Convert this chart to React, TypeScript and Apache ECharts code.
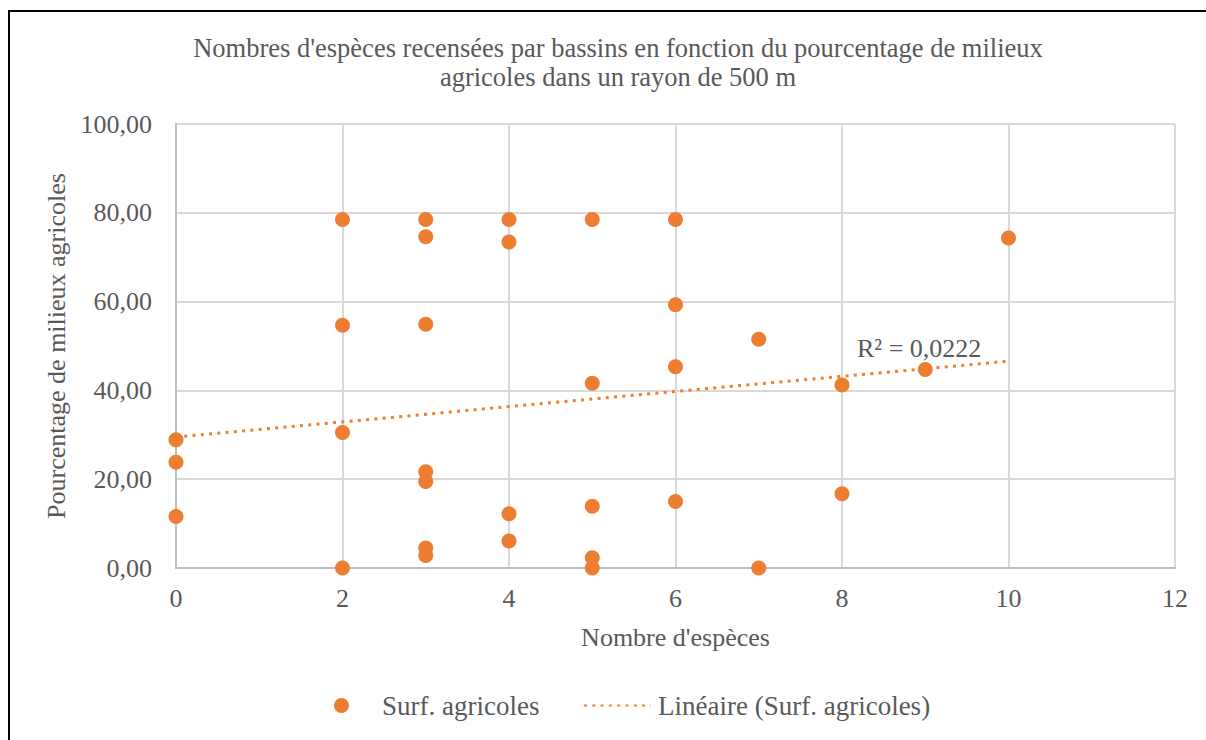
import React, { useEffect, useRef } from "react";
import * as echarts from "echarts";

const titleText =
  "Nombres d'espèces recensées par bassins en fonction du pourcentage de milieux\nagricoles dans un rayon de 500 m";
const xAxisName = "Nombre d'espèces";
const yAxisName = "Pourcentage de milieux agricoles";
const seriesName = "Surf. agricoles";
const trendName = "Linéaire (Surf. agricoles)";
const r2Label = "R² = 0,0222";

const speciesCounts = [
  0, 0, 0,
  2, 2, 2, 2,
  3, 3, 3, 3, 3, 3, 3,
  4, 4, 4, 4,
  5, 5, 5, 5, 5,
  6, 6, 6, 6,
  7, 7,
  8, 8,
  9,
  10,
];
const agriPercent = [
  28.9, 23.8, 11.6,
  78.5, 54.7, 30.5, 0,
  78.5, 74.6, 54.9, 21.7, 19.5, 4.5, 2.8,
  78.5, 73.4, 12.2, 6.1,
  78.5, 41.6, 13.9, 2.3, 0,
  78.5, 59.3, 45.3, 15.0,
  51.5, 0,
  41.2, 16.7,
  44.7,
  74.3,
];
const trendX = [0, 10];
const trendY = [29.5, 46.6];

const xTicks = { min: 0, max: 12, interval: 2 };
const yTicks = { min: 0, max: 100, interval: 20 };

const ORANGE = "#ED7D31";
const TEXT = "#595959";
const FONT = "Liberation Serif";
const FS = 26;

export default function App() {
  const ref = useRef<HTMLDivElement>(null);
  useEffect(() => {
    if (!ref.current) return;
    const chart = echarts.init(ref.current, undefined, { renderer: "svg" });
    const points = speciesCounts.map((x, i) => [x, agriPercent[i]]);
    const trend = trendX.map((x, i) => [x, trendY[i]]);
    chart.setOption({
      animation: false,
      backgroundColor: "#fff",
      textStyle: { fontFamily: FONT },
      title: {
        text: titleText,
        left: 613,
        textAlign: "center",
        top: 28,
        textStyle: {
          fontFamily: FONT,
          fontSize: 26.5,
          fontWeight: "normal",
          color: TEXT,
          lineHeight: 29,
        },
      },
      grid: { left: 176, right: 31, top: 124, bottom: 172, containLabel: false },
      xAxis: {
        type: "value",
        min: xTicks.min,
        max: xTicks.max,
        interval: xTicks.interval,
        name: xAxisName,
        nameLocation: "middle",
        nameGap: 56,
        nameTextStyle: { fontFamily: FONT, fontSize: FS, color: TEXT },
        axisLine: { show: true, lineStyle: { color: "#BFBFBF", width: 2 } },
        axisTick: { show: false },
        axisLabel: { fontFamily: FONT, fontSize: FS, color: TEXT, margin: 17 },
        splitLine: { show: true, lineStyle: { color: "#D9D9D9", width: 2 } },
      },
      yAxis: {
        type: "value",
        min: yTicks.min,
        max: yTicks.max,
        interval: yTicks.interval,
        name: yAxisName,
        nameLocation: "middle",
        nameRotate: 90,
        nameGap: 104,
        nameTextStyle: { fontFamily: FONT, fontSize: FS, color: TEXT },
        axisLine: { show: true, lineStyle: { color: "#BFBFBF", width: 2 } },
        axisTick: { show: false },
        axisLabel: {
          fontFamily: FONT,
          fontSize: FS,
          color: TEXT,
          margin: 24,
          formatter: (v: number) => v.toFixed(2).replace(".", ","),
        },
        splitLine: { show: true, lineStyle: { color: "#D9D9D9", width: 2 } },
      },
      legend: [
        {
          data: [seriesName],
          left: 334,
          top: 692,
          padding: 0,
          itemWidth: 15,
          itemHeight: 15,
          icon: "circle",
          itemStyle: { opacity: 1 },
          textStyle: { fontFamily: FONT, fontSize: 27, color: TEXT, padding: [0, 0, 0, 28] },
        },
        {
          data: [trendName],
          left: 583,
          top: 692,
          padding: 0,
          itemWidth: 67,
          itemHeight: 14,
          itemStyle: { opacity: 0 },
          textStyle: { fontFamily: FONT, fontSize: 27, color: TEXT, padding: [0, 0, 0, 2] },
        },
      ],
      series: [
        {
          name: seriesName,
          type: "scatter",
          data: points,
          symbol: "circle",
          symbolSize: 15,
          itemStyle: { color: ORANGE, opacity: 1 },
          z: 3,
        },
        {
          name: trendName,
          type: "line",
          data: trend,
          symbol: "none",
          showSymbol: false,
          lineStyle: { color: ORANGE, width: 3, type: [3, 5.3] },
          itemStyle: { color: ORANGE },
          z: 4,
        },
      ],
      graphic: [
        {
          type: "rect",
          shape: { x: 9, y: 11, width: 1300, height: 900 },
          style: { fill: "none", stroke: "#000", lineWidth: 2 },
          silent: true,
          z: 100,
        },
        {
          type: "text",
          x: 857,
          y: 348,
          style: {
            text: r2Label,
            fontFamily: FONT,
            fontSize: FS,
            fill: TEXT,
            textVerticalAlign: "middle",
          },
          z: 50,
        },
      ],
    });
    return () => chart.dispose();
  }, []);
  return (
    <div
      ref={ref}
      style={{ position: "absolute", left: 0, top: 0, width: 1206, height: 740 }}
    />
  );
}
